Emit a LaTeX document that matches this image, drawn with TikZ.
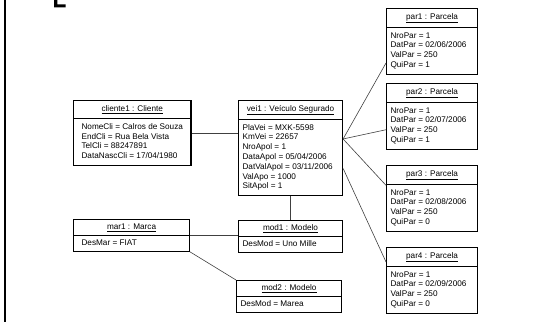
\documentclass[tikz,border=0pt]{standalone}
\usepackage{fontspec}
\setmainfont{Liberation Sans}
\usepackage{tikz}
\usetikzlibrary{calc,shapes.multipart,positioning}

\newcommand\objfont{\fontsize{8.2}{9.8}\selectfont}
\newcommand\attrs[1]{\begin{tabular}{@{}l@{}}#1\end{tabular}}
\newcommand\objname[1]{\strut\underline{#1}}

\begin{document}
\begin{tikzpicture}[x=1pt,y=-1pt,
      obj/.style={
            rectangle split,
            rectangle split parts=2, draw,
            rectangle split part align={center,left},
            rectangle split draw splits=false,
            line width=1.1pt, anchor=north west,
            inner xsep=4pt, inner ysep=3.5pt,
            font=\objfont, text=black
        },
      small/.style={inner ysep=2.5pt},
      link/.style={draw=black!75, line width=0.6pt}
      ]
    \useasboundingbox (0,0) rectangle (558,322);
    \draw[line width=2pt] (5,0) -- (5,322);
    \fill (54,0) rectangle (57.3,7.3) (54,4.3) rectangle (65.7,7.3);

    \node[obj,minimum width=117pt,inner xsep=8pt] (cli) at (73,100)
      {\objname{cliente1 : Cliente}
       \nodepart{second}\attrs{NomeCli = Calros de Souza\\ EndCli = Rua Bela Vista\\
        TelCli = 88247891\\ DataNascCli = 17/04/1980}};
    \node[obj,minimum width=104pt] (vei) at (238,100)
      {\objname{vei1 : Veículo Segurado}
       \nodepart{second}\attrs{PlaVei = MXK-5598\\ KmVei = 22657\\ NroApol = 1\\
        DataApol = 05/04/2006\\ DatValApol = 03/11/2006\\ ValApo = 1000\\ SitApol = 1}};
    \node[obj,small,minimum width=104pt] (mod1) at (238,220)
      {\objname{mod1 : Modelo}\nodepart{second}\attrs{DesMod = Uno Mille}};
    \node[obj,small,minimum width=105pt] (mod2) at (236,280)
      {\objname{mod2 : Modelo}\nodepart{second}\attrs{DesMod = Marea}};
    \node[obj,small,minimum width=116pt,inner xsep=8pt] (mar) at (73,219)
      {\objname{mar1 : Marca}\nodepart{second}\attrs{DesMar = FIAT}};

    \node[obj,minimum width=91pt] (par1) at (386,8)
      {\objname{par1 : Parcela}
       \nodepart{second}\attrs{NroPar = 1\\ DatPar = 02/06/2006\\ ValPar = 250\\ QuiPar = 1}};
    \node[obj,minimum width=91pt] (par2) at (386,83)
      {\objname{par2 : Parcela}
       \nodepart{second}\attrs{NroPar = 1\\ DatPar = 02/07/2006\\ ValPar = 250\\ QuiPar = 1}};
    \node[obj,minimum width=91pt] (par3) at (386,165)
      {\objname{par3 : Parcela}
       \nodepart{second}\attrs{NroPar = 1\\ DatPar = 02/08/2006\\ ValPar = 250\\ QuiPar = 0}};
    \node[obj,minimum width=91pt] (par4) at (386,247)
      {\objname{par4 : Parcela}
       \nodepart{second}\attrs{NroPar = 1\\ DatPar = 02/09/2006\\ ValPar = 250\\ QuiPar = 0}};

    % thin splits under the names
    \foreach \o in {cli,vei,mod1,mod2,mar,par1,par2,par3,par4}
      \draw[line width=0.6pt] (\o.text split west) -- (\o.text split east);

    % links
    \draw[link] (cli.east) -- (cli.east -| vei.west);
    \draw[link] (vei.south) -- (mod1.north);
    \draw[link] (mar.text split east) -- (mar.text split east -| mod1.west);
    \draw[link] (mar.south east) -- (mod2.north west);
    \draw[link] (vei.10) -- (par1.205);
    \draw[link] (vei.10) -- (par2.196);
    \draw[link] (vei.10) -- (par3.164);
    \draw[link] (vei.-21) -- (par4.158);
  \end{tikzpicture}
\end{document}
